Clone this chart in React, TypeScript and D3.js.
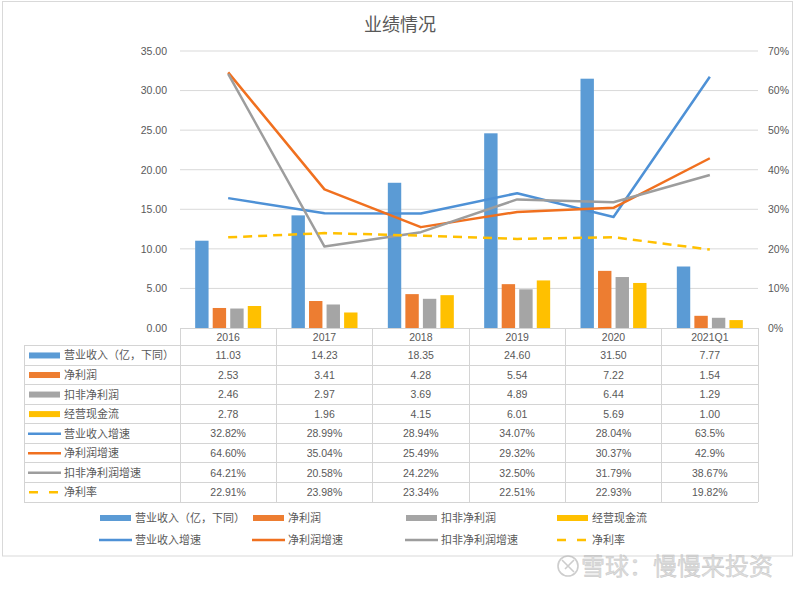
import React from "react";
import * as d3 from "d3";

const categories = ["2016", "2017", "2018", "2019", "2020", "2021Q1"];
const revenue = [11.03, 14.23, 18.35, 24.6, 31.5, 7.77];
const netProfit = [2.53, 3.41, 4.28, 5.54, 7.22, 1.54];
const deductedProfit = [2.46, 2.97, 3.69, 4.89, 6.44, 1.29];
const cashFlow = [2.78, 1.96, 4.15, 6.01, 5.69, 1.0];
const revenueGrowth = [32.82, 28.99, 28.94, 34.07, 28.04, 63.5];
const netProfitGrowth = [64.6, 35.04, 25.49, 29.32, 30.37, 42.9];
const deductedGrowth = [64.21, 20.58, 24.22, 32.5, 31.79, 38.67];
const netMargin = [22.91, 23.98, 23.34, 22.51, 22.93, 19.82];

const revenueLabels = ["11.03", "14.23", "18.35", "24.60", "31.50", "7.77"];
const netProfitLabels = ["2.53", "3.41", "4.28", "5.54", "7.22", "1.54"];
const deductedLabels = ["2.46", "2.97", "3.69", "4.89", "6.44", "1.29"];
const cashFlowLabels = ["2.78", "1.96", "4.15", "6.01", "5.69", "1.00"];
const revenueGrowthLabels = ["32.82%", "28.99%", "28.94%", "34.07%", "28.04%", "63.5%"];
const netProfitGrowthLabels = ["64.60%", "35.04%", "25.49%", "29.32%", "30.37%", "42.9%"];
const deductedGrowthLabels = ["64.21%", "20.58%", "24.22%", "32.50%", "31.79%", "38.67%"];
const netMarginLabels = ["22.91%", "23.98%", "23.34%", "22.51%", "22.93%", "19.82%"];

const leftTicks = [0, 5, 10, 15, 20, 25, 30, 35];
const rightTicks = [0, 0.1, 0.2, 0.3, 0.4, 0.5, 0.6, 0.7];

const C_BLUE = "#5b9bd5";
const C_ORANGE = "#ed7d31";
const C_GRAY = "#a5a5a5";
const C_YELLOW = "#ffc000";
const L_BLUE = "#4e91d6";
const L_ORANGE = "#f0701f";
const L_GRAY = "#9d9d9d";

type Series = {
  name: string;
  kind: "bar" | "line" | "dash";
  color: string;
  values: number[];
  labels: string[];
};

const series: Series[] = [
  { name: "营业收入（亿，下同）", kind: "bar", color: C_BLUE, values: revenue, labels: revenueLabels },
  { name: "净利润", kind: "bar", color: C_ORANGE, values: netProfit, labels: netProfitLabels },
  { name: "扣非净利润", kind: "bar", color: C_GRAY, values: deductedProfit, labels: deductedLabels },
  { name: "经营现金流", kind: "bar", color: C_YELLOW, values: cashFlow, labels: cashFlowLabels },
  { name: "营业收入增速", kind: "line", color: L_BLUE, values: revenueGrowth, labels: revenueGrowthLabels },
  { name: "净利润增速", kind: "line", color: L_ORANGE, values: netProfitGrowth, labels: netProfitGrowthLabels },
  { name: "扣非净利润增速", kind: "line", color: L_GRAY, values: deductedGrowth, labels: deductedGrowthLabels },
  { name: "净利率", kind: "dash", color: C_YELLOW, values: netMargin, labels: netMarginLabels },
];

const W = 800;
const H = 591;
const plotLeft = 180;
const plotRight = 758;
const plotTop = 51;
const plotBottom = 328;
const headerBottom = 345.7;
const rowH = 19.54;
const tableLeft = 24;

const TEXT = "#595959";
const NUM_FONT = "'Liberation Sans', Arial, sans-serif";
const CJK_FONT = "'Noto Sans CJK SC', 'Noto Sans', sans-serif";

function Swatch({ s, x, y }: { s: Series; x: number; y: number }) {
  if (s.kind === "bar") {
    return <rect x={x} y={y - 3} width={31} height={6} fill={s.color} />;
  }
  if (s.kind === "line") {
    return <line x1={x - 1} x2={x + 32} y1={y} y2={y} stroke={s.color} strokeWidth={2.5} />;
  }
  return (
    <line x1={x} x2={x + 31} y1={y} y2={y} stroke={s.color} strokeWidth={2.5} strokeDasharray="9,11" />
  );
}

export default function App() {
  const x = d3.scaleBand<string>().domain(categories).range([plotLeft, plotRight]).paddingInner(0).paddingOuter(0);
  const yL = d3.scaleLinear().domain([0, 35]).range([plotBottom, plotTop]);
  const yR = d3.scaleLinear().domain([0, 0.7]).range([plotBottom, plotTop]);
  const barSeries = series.filter((s) => s.kind === "bar");
  const lineSeries = series.filter((s) => s.kind !== "bar");
  const sub = d3
    .scaleBand<string>()
    .domain(barSeries.map((s) => s.name))
    .range([-33, 33])
    .paddingInner(0.236)
    .paddingOuter(0);
  const cx = (c: string) => (x(c) as number) + x.bandwidth() / 2;
  const lineGen = d3
    .line<number>()
    .x((_, i) => cx(categories[i]))
    .y((v) => yR(v / 100));

  const rowY = (i: number) => headerBottom + i * rowH;
  const legendCols = [100, 253, 406, 557];
  const legendRows = [518, 540];

  return (
    <svg
      width={W}
      height={H}
      style={{ position: "absolute", left: 0, top: 0, background: "#fff" }}
      xmlns="http://www.w3.org/2000/svg"
    >
      <rect x={0} y={0} width={W} height={H} fill="#fff" />
      <rect x={2.5} y={1.5} width={790} height={554.5} fill="none" stroke="#d9d9d9" strokeWidth={1} />

      <text x={400} y={31} textAnchor="middle" fontFamily={CJK_FONT} fontSize={18} fill={TEXT}>
        业绩情况
      </text>

      {/* gridlines */}
      {leftTicks.filter((t) => t > 0).map((t) => (
        <line key={t} x1={plotLeft} x2={plotRight} y1={yL(t)} y2={yL(t)} stroke="#d9d9d9" strokeWidth={1} />
      ))}

      {/* left axis labels */}
      {leftTicks.map((t) => (
        <text key={t} x={167} y={yL(t) + 3.8} textAnchor="end" fontFamily={NUM_FONT} fontSize={10.5} fill={TEXT}>
          {d3.format(".2f")(t)}
        </text>
      ))}
      {/* right axis labels */}
      {rightTicks.map((t) => (
        <text key={t} x={768} y={yR(t) + 3.8} textAnchor="start" fontFamily={NUM_FONT} fontSize={10.5} fill={TEXT}>
          {d3.format(".0%")(t)}
        </text>
      ))}

      {/* bars */}
      {barSeries.map((s) =>
        categories.map((c, i) => (
          <rect
            key={s.name + c}
            x={cx(c) + (sub(s.name) as number)}
            y={yL(s.values[i])}
            width={sub.bandwidth()}
            height={plotBottom - yL(s.values[i])}
            fill={s.color}
          />
        ))
      )}

      {/* lines */}
      {lineSeries.map((s) => (
        <path
          key={s.name}
          d={lineGen(s.values) || ""}
          fill="none"
          stroke={s.color}
          strokeWidth={2.5}
          strokeLinejoin="round"
          strokeDasharray={s.kind === "dash" ? "9,6" : undefined}
        />
      ))}

      {/* data table */}
      <g stroke="#d4d4d4" strokeWidth={1} shapeRendering="crispEdges">
        <line x1={plotLeft} x2={plotRight} y1={plotBottom} y2={plotBottom} />
        {d3.range(series.length + 1).map((i) => (
          <line key={i} x1={tableLeft} x2={plotRight} y1={rowY(i)} y2={rowY(i)} />
        ))}
        <line x1={tableLeft} x2={tableLeft} y1={headerBottom} y2={rowY(series.length)} />
        {d3.range(categories.length + 1).map((i) => {
          const xx = plotLeft + i * x.bandwidth();
          return <line key={i} x1={xx} x2={xx} y1={plotBottom} y2={rowY(series.length)} />;
        })}
      </g>
      {categories.map((c) => (
        <text key={c} x={cx(c)} y={(plotBottom + headerBottom) / 2 + 3.8} textAnchor="middle" fontFamily={NUM_FONT} fontSize={10.5} fill={TEXT}>
          {c}
        </text>
      ))}
      {series.map((s, r) => {
        const yc = rowY(r) + rowH / 2;
        return (
          <g key={s.name}>
            <Swatch s={s} x={29} y={yc} />
            <text x={64} y={yc + 4} fontFamily={CJK_FONT} fontSize={11} fill={TEXT}>
              {s.name}
            </text>
            {categories.map((c, i) => (
              <text key={c} x={cx(c)} y={yc + 3.8} textAnchor="middle" fontFamily={NUM_FONT} fontSize={10.5} fill={TEXT}>
                {s.labels[i]}
              </text>
            ))}
          </g>
        );
      })}

      {/* legend */}
      {series.map((s, i) => {
        const lx = legendCols[i % 4];
        const ly = legendRows[Math.floor(i / 4)];
        return (
          <g key={s.name}>
            <Swatch s={s} x={lx} y={ly} />
            <text x={lx + 35} y={ly + 4} fontFamily={CJK_FONT} fontSize={11} fill={TEXT}>
              {s.name}
            </text>
          </g>
        );
      })}

      {/* watermark */}
      <g opacity={0.7}>
        <circle cx={568} cy={566} r={10} fill="none" stroke="#b8b8b8" strokeWidth={1.6} />
        <path d="M562,560 L574,572 M574,560 L565,569" stroke="#b8b8b8" strokeWidth={1.6} fill="none" />
        <text x={581} y={575} fontFamily={CJK_FONT} fontSize={24} fill="#cfcfcf" stroke="#aaaaaa" strokeWidth={0.4}>
          雪球：慢慢来投资
        </text>
      </g>
    </svg>
  );
}
